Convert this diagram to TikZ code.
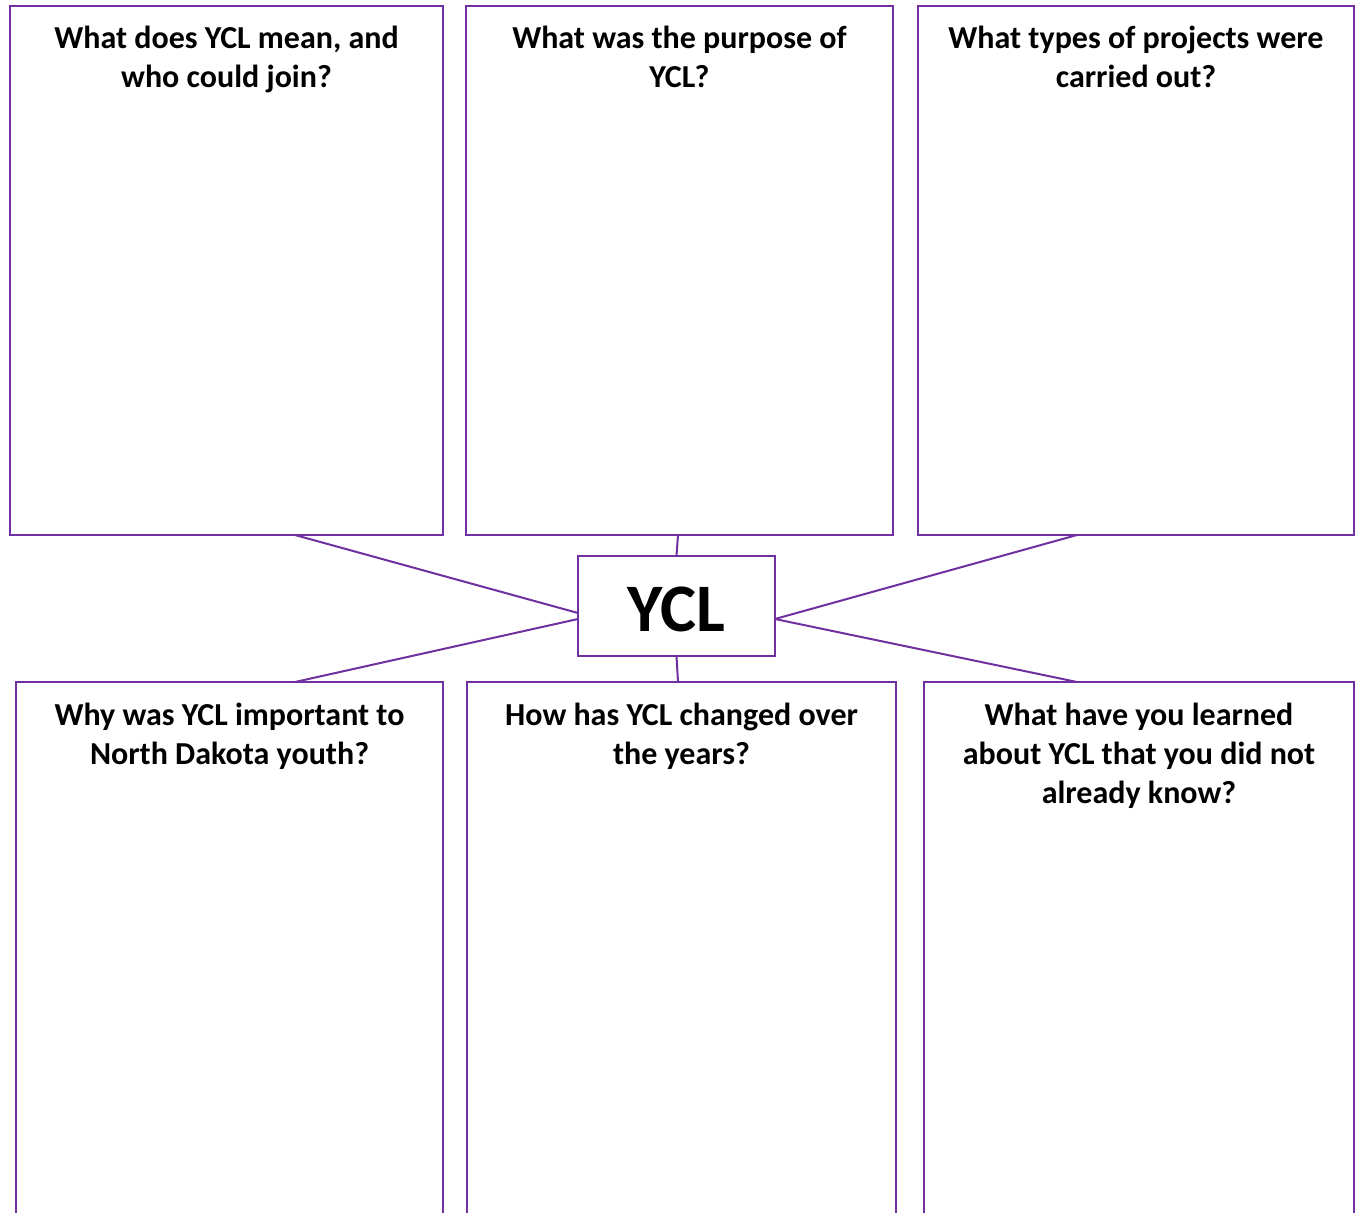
\documentclass[tikz,border=0pt]{standalone}
\usepackage{fontspec}
\setmainfont{Carlito}
\usetikzlibrary{positioning,calc}
\definecolor{ycpurple}{HTML}{7030A0}
\def\ques#1#2#3#4{\node[ques,#4] (#1) at (#2) {#3}}
\tikzstyle{qbox}=[draw=ycpurple,line width=1pt,rectangle,anchor=north west,inner sep=0pt,outer sep=0pt]
\tikzstyle{ques}=[anchor=base,align=center,inner sep=0pt,font=\fontsize{16pt}{19.5pt}\selectfont\bfseries]
\tikzstyle{hub}=[draw=ycpurple,line width=1pt,rectangle,inner sep=0pt,outer sep=0pt,minimum width=98.5pt,minimum height=50pt,text height=26pt,font=\fontsize{34pt}{40pt}\selectfont\bfseries]
\tikzstyle{link}=[draw=ycpurple,line width=1pt]

\begin{document}
\begin{tikzpicture}[x=0.5pt,y=-0.5pt]
    \useasboundingbox (0,0) rectangle (1359,1213);
    % top row of question boxes
    \node[qbox,minimum width=216.5pt,minimum height=264.5pt] (qa) at (10,6) {};
    \node[qbox,minimum width=213.5pt,minimum height=264.5pt] (qb) at (466,6) {};
    \node[qbox,minimum width=218pt,minimum height=264.5pt] (qc) at (918,6) {};
    % bottom row, cut off by the page
    \node[qbox,minimum width=213.5pt,minimum height=350pt] (qd) at (16,682) {};
    \node[qbox,minimum width=214.5pt,minimum height=350pt] (qe) at (467,682) {};
    \node[qbox,minimum width=215pt,minimum height=350pt] (qf) at (924,682) {};
    % centre
    \node[hub] (ycl) at (676.5,606) {YCL};
    % base sits on the last line
    \ques{qa-text}{qa.north}{What does YCL mean, and\\who could join?}{yshift=-41pt};
    \ques{qb-text}{qb.north}{What was the purpose of\\YCL?}{yshift=-41pt};
    \ques{qc-text}{qc.north}{What types of projects were\\carried out?}{yshift=-41pt};
    \ques{qd-text}{qd.north}{Why was YCL important to\\North Dakota youth?}{yshift=-41pt};
    \ques{qe-text}{qe.north}{How has YCL changed over\\the years?}{yshift=-41pt};
    \ques{qf-text}{qf.north}{What have you learned\\about YCL that you did not\\already know?}{yshift=-60.5pt};
    % spokes
    \coordinate (qa-foot) at (295,535);
    \coordinate (qb-foot) at (678,535);
    \coordinate (qc-foot) at (1077,535);
    \coordinate (qd-head) at (295,682);
    \coordinate (qe-head) at (678,682);
    \coordinate (qf-head) at (1077,682);
    \draw[link] (qa-foot) -- ([yshift=-3.5pt]ycl.west);
    \draw[link] (qd-head) -- ([yshift=-6.5pt]ycl.west);
    \draw[link] (qb-foot) -- (ycl.north);
    \draw[link] (ycl.south) -- (qe-head);
    \draw[link] (qc-foot) -- ([yshift=-6.5pt]ycl.east);
    \draw[link] (qf-head) -- ([yshift=-6.5pt]ycl.east);
  \end{tikzpicture}
\end{document}
